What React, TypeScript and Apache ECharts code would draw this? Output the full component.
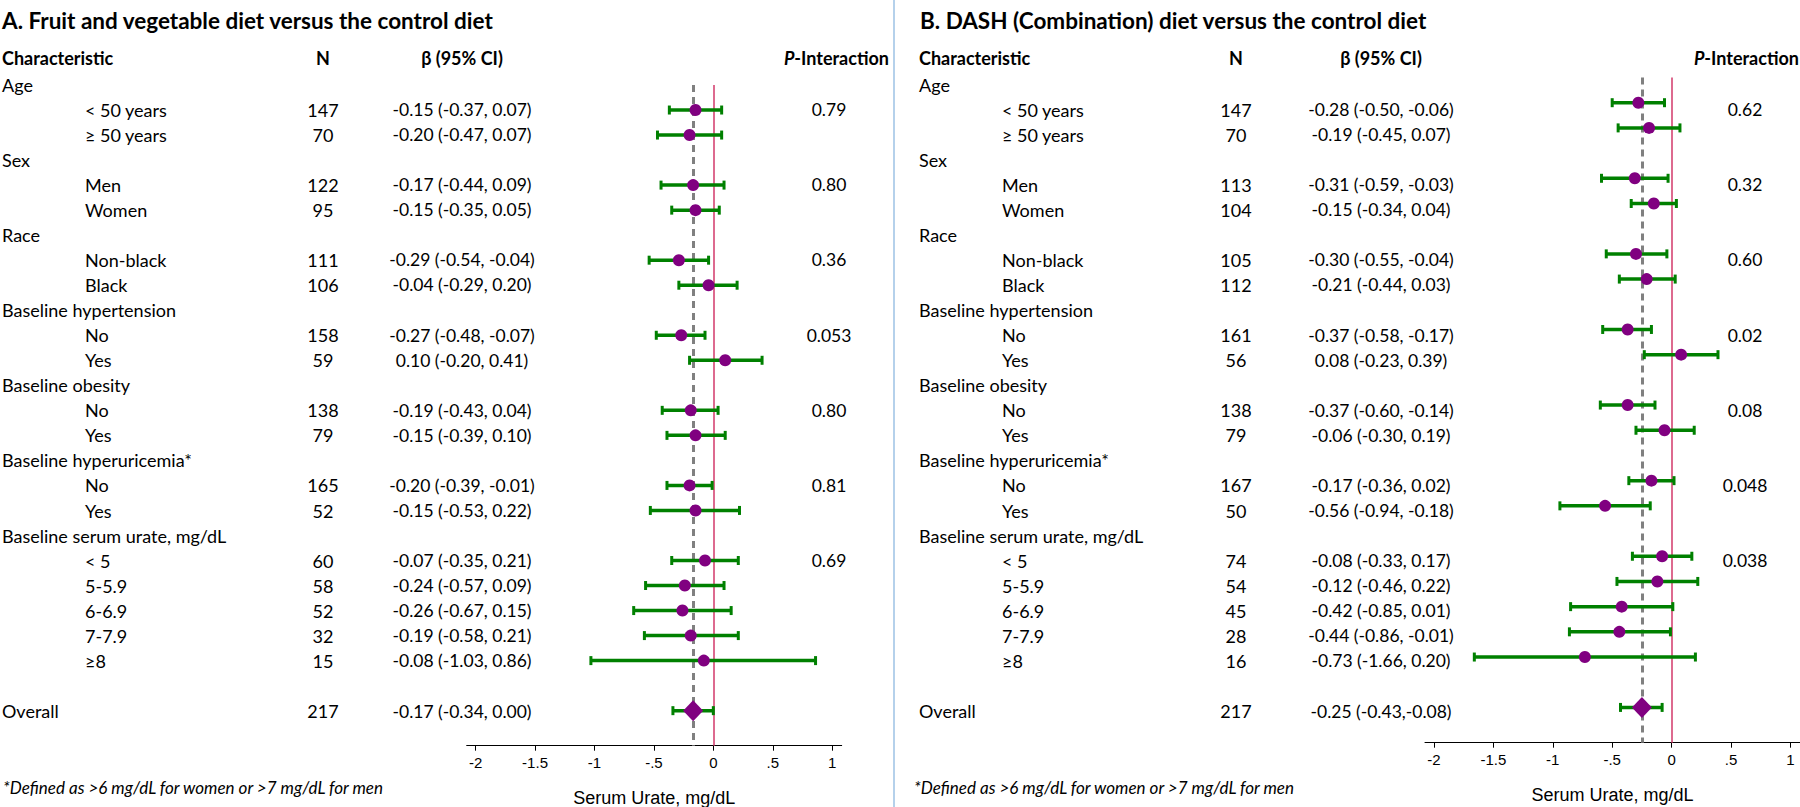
import React, { useEffect, useRef } from "react";
import * as echarts from "echarts";

// ---------------- data ----------------
const characteristics = [
  "Age", "< 50 years", "≥ 50 years",
  "Sex", "Men", "Women",
  "Race", "Non-black", "Black",
  "Baseline hypertension", "No", "Yes",
  "Baseline obesity", "No", "Yes",
  "Baseline hyperuricemia*", "No", "Yes",
  "Baseline serum urate, mg/dL", "< 5", "5-5.9", "6-6.9", "7-7.9", "≥8",
  "", "Overall",
];
const indentLevel = [0, 1, 1, 0, 1, 1, 0, 1, 1, 0, 1, 1, 0, 1, 1, 0, 1, 1, 0, 1, 1, 1, 1, 1, 0, 0];
const OVERALL_ROW = 25;

// Panel A: Fruit and vegetable diet vs control
const nA = [null, 147, 70, null, 122, 95, null, 111, 106, null, 158, 59, null, 138, 79, null, 165, 52, null, 60, 58, 52, 32, 15, null, 217];
const estA = [null, -0.15, -0.20, null, -0.17, -0.15, null, -0.29, -0.04, null, -0.27, 0.10, null, -0.19, -0.15, null, -0.20, -0.15, null, -0.07, -0.24, -0.26, -0.19, -0.08, null, -0.17];
const loA = [null, -0.37, -0.47, null, -0.44, -0.35, null, -0.54, -0.29, null, -0.48, -0.20, null, -0.43, -0.39, null, -0.39, -0.53, null, -0.35, -0.57, -0.67, -0.58, -1.03, null, -0.34];
const hiA = [null, 0.07, 0.07, null, 0.09, 0.05, null, -0.04, 0.20, null, -0.07, 0.41, null, 0.04, 0.10, null, -0.01, 0.22, null, 0.21, 0.09, 0.15, 0.21, 0.86, null, 0.00];
const ciTextA = [null, "-0.15 (-0.37, 0.07)", "-0.20 (-0.47, 0.07)", null, "-0.17 (-0.44, 0.09)", "-0.15 (-0.35, 0.05)", null, "-0.29 (-0.54, -0.04)", "-0.04 (-0.29, 0.20)", null, "-0.27 (-0.48, -0.07)", "0.10 (-0.20, 0.41)", null, "-0.19 (-0.43, 0.04)", "-0.15 (-0.39, 0.10)", null, "-0.20 (-0.39, -0.01)", "-0.15 (-0.53, 0.22)", null, "-0.07 (-0.35, 0.21)", "-0.24 (-0.57, 0.09)", "-0.26 (-0.67, 0.15)", "-0.19 (-0.58, 0.21)", "-0.08 (-1.03, 0.86)", null, "-0.17 (-0.34, 0.00)"];
const pA = [null, "0.79", null, null, "0.80", null, null, "0.36", null, null, "0.053", null, null, "0.80", null, null, "0.81", null, null, "0.69", null, null, null, null, null, null];

// Panel B: DASH (Combination) diet vs control
const nB = [null, 147, 70, null, 113, 104, null, 105, 112, null, 161, 56, null, 138, 79, null, 167, 50, null, 74, 54, 45, 28, 16, null, 217];
const estB = [null, -0.28, -0.19, null, -0.31, -0.15, null, -0.30, -0.21, null, -0.37, 0.08, null, -0.37, -0.06, null, -0.17, -0.56, null, -0.08, -0.12, -0.42, -0.44, -0.73, null, -0.25];
const loB = [null, -0.50, -0.45, null, -0.59, -0.34, null, -0.55, -0.44, null, -0.58, -0.23, null, -0.60, -0.30, null, -0.36, -0.94, null, -0.33, -0.46, -0.85, -0.86, -1.66, null, -0.43];
const hiB = [null, -0.06, 0.07, null, -0.03, 0.04, null, -0.04, 0.03, null, -0.17, 0.39, null, -0.14, 0.19, null, 0.02, -0.18, null, 0.17, 0.22, 0.01, -0.01, 0.20, null, -0.08];
const ciTextB = [null, "-0.28 (-0.50, -0.06)", "-0.19 (-0.45, 0.07)", null, "-0.31 (-0.59, -0.03)", "-0.15 (-0.34, 0.04)", null, "-0.30 (-0.55, -0.04)", "-0.21 (-0.44, 0.03)", null, "-0.37 (-0.58, -0.17)", "0.08 (-0.23, 0.39)", null, "-0.37 (-0.60, -0.14)", "-0.06 (-0.30, 0.19)", null, "-0.17 (-0.36, 0.02)", "-0.56 (-0.94, -0.18)", null, "-0.08 (-0.33, 0.17)", "-0.12 (-0.46, 0.22)", "-0.42 (-0.85, 0.01)", "-0.44 (-0.86, -0.01)", "-0.73 (-1.66, 0.20)", null, "-0.25 (-0.43,-0.08)"];
const pB = [null, "0.62", null, null, "0.32", null, null, "0.60", null, null, "0.02", null, null, "0.08", null, null, "0.048", null, null, "0.038", null, null, null, null, null, null];

const xTickValues = [-2, -1.5, -1, -0.5, 0, 0.5, 1];
const xTickLabels = ["-2", "-1.5", "-1", "-.5", "0", ".5", "1"];

const titleA = "A. Fruit and vegetable diet versus the control diet";
const titleB = "B. DASH (Combination) diet versus the control diet";
const footnote = "*Defined as >6 mg/dL for women or >7 mg/dL for men";
const axisTitle = "Serum Urate, mg/dL";
const headers = ["Characteristic", "N", "β (95% CI)", "{i|P}-Interaction"];

// ---------------- layout / style ----------------
const W = 1800;
const H = 807;
const FONT = "Lato, 'Noto Sans', sans-serif";
const AXIS_FONT = "'Liberation Sans', Arial, sans-serif";
const ROW0_Y = 84.5;
const ROW_STEP = 25.06;
const HEADER_ROW = -1.06;
const TABLE_YMIN = -1.5;
const TABLE_YMAX = 26.4;
const FOREST_YMAX = 26.4;
const X_MIN = -2.075;
const X_MAX = 1.08;
const GREEN = "#008000";
const PURPLE = "#800080";
const RED = "#D2386A";
const GREY = "#808080";

const panels = [
  {
    n: nA, est: estA, lo: loA, hi: hiA, ci: ciTextA, p: pA, title: titleA,
    col: { label0: 2, label1: 85, n: 323, ci: 462, p: 829, pHead: 889 },
    forest: { left: 466.7, width: 375, top: 85, height: 660.7 },
    titleLeft: 2, footLeft: 3,
  },
  {
    n: nB, est: estB, lo: loB, hi: hiB, ci: ciTextB, p: pB, title: titleB,
    col: { label0: 919, label1: 1002, n: 1236, ci: 1381, p: 1745, pHead: 1799 },
    forest: { left: 1425, width: 375, top: 77.5, height: 665.2 },
    titleLeft: 920, footLeft: 914,
  },
];

type TextItem = { x: number; row: number; text: string; align: string; kind: "head" | "label" | "num"; rich?: boolean };

function buildTextItems(): TextItem[] {
  const items: TextItem[] = [];
  panels.forEach((pn) => {
    const c = pn.col;
    items.push({ x: c.label0, row: HEADER_ROW, text: headers[0], align: "left", kind: "head" });
    items.push({ x: c.n, row: HEADER_ROW, text: headers[1], align: "center", kind: "head" });
    items.push({ x: c.ci, row: HEADER_ROW, text: headers[2], align: "center", kind: "head" });
    items.push({ x: c.pHead, row: HEADER_ROW, text: headers[3], align: "right", kind: "head", rich: true });
    characteristics.forEach((lab, i) => {
      if (lab) items.push({ x: indentLevel[i] ? c.label1 : c.label0, row: i, text: lab, align: "left", kind: "label" });
      if (pn.n[i] != null) items.push({ x: c.n, row: i, text: String(pn.n[i]), align: "center", kind: "label" });
      if (pn.ci[i]) items.push({ x: c.ci, row: i, text: pn.ci[i] as string, align: "center", kind: "num" });
      if (pn.p[i]) items.push({ x: c.p, row: i, text: pn.p[i] as string, align: "center", kind: "num" });
    });
  });
  return items;
}

export default function App() {
  const ref = useRef<HTMLDivElement>(null);

  useEffect(() => {
    document.body.style.margin = "0";
    if (!ref.current) return;
    const chart = echarts.init(ref.current, null, { renderer: "svg", width: W, height: H });
    const textItems = buildTextItems();

    const grids: any[] = [
      {
        left: 0, width: W,
        top: ROW0_Y + TABLE_YMIN * ROW_STEP,
        height: (TABLE_YMAX - TABLE_YMIN) * ROW_STEP,
        outerBoundsMode: "none",
      },
    ];
    const xAxes: any[] = [{ gridIndex: 0, type: "value", min: 0, max: W, show: false }];
    const yAxes: any[] = [{ gridIndex: 0, type: "value", inverse: true, min: TABLE_YMIN, max: TABLE_YMAX, show: false }];
    const series: any[] = [
      {
        type: "custom",
        xAxisIndex: 0,
        yAxisIndex: 0,
        clip: false,
        silent: true,
        data: textItems.map((t) => [t.x, t.row]),
        renderItem: (params: any, api: any) => {
          const it = textItems[params.dataIndex];
          const pt = api.coord([it.x, it.row]);
          const isNum = it.kind === "num";
          const isHead = it.kind === "head";
          return {
            type: "text",
            x: pt[0],
            y: pt[1],
            style: {
              text: it.text,
              fill: "#000",
              fontFamily: FONT,
              fontSize: isNum ? 17.5 : 18,
              fontWeight: isHead ? "bold" : "normal",
              align: it.align,
              verticalAlign: "middle",
              rich: it.rich
                ? { i: { fontStyle: "italic", fontWeight: "bold", fontFamily: FONT, fontSize: 18, fill: "#000" } }
                : undefined,
            },
          };
        },
      },
    ];

    panels.forEach((pn, k) => {
      const gi = k + 1;
      grids.push({ ...pn.forest, outerBoundsMode: "none" });
      xAxes.push({
        gridIndex: gi,
        type: "value",
        min: X_MIN,
        max: X_MAX,
        name: axisTitle,
        nameLocation: "middle",
        nameGap: 43,
        nameTextStyle: { fontFamily: AXIS_FONT, fontSize: 18, color: "#000" },
        axisLine: { show: true, onZero: false, lineStyle: { color: "#000", width: 1 } },
        axisTick: { show: true, length: 5, customValues: xTickValues, lineStyle: { color: "#000" } },
        axisLabel: {
          show: true,
          margin: 9,
          customValues: xTickValues,
          fontFamily: AXIS_FONT,
          fontSize: 15,
          color: "#000",
          formatter: (v: number) => {
            const idx = xTickValues.findIndex((t) => Math.abs(t - v) < 1e-9);
            return idx >= 0 ? xTickLabels[idx] : "";
          },
        },
        splitLine: { show: false },
      });
      yAxes.push({ gridIndex: gi, type: "value", inverse: true, min: 0, max: FOREST_YMAX, show: false });

      const ciData: number[][] = [];
      const ptData: number[][] = [];
      pn.est.forEach((e, i) => {
        if (e == null) return;
        ciData.push([pn.lo[i] as number, pn.hi[i] as number, i]);
        if (i !== OVERALL_ROW) ptData.push([e, i]);
      });
      const overallEst = pn.est[OVERALL_ROW] as number;

      // reference lines
      series.push({
        type: "scatter",
        xAxisIndex: gi,
        yAxisIndex: gi,
        z: 1,
        silent: true,
        symbolSize: 0,
        data: [[0, 1]],
        markLine: {
          z: 1,
          silent: true,
          symbol: ["none", "none"],
          label: { show: false },
          data: [
            { xAxis: 0, lineStyle: { color: RED, width: 1.5, type: "solid" } },
            { xAxis: overallEst, lineStyle: { color: GREY, width: 3, type: [7, 5] } },
          ],
        },
      });
      // confidence intervals
      series.push({
        type: "custom",
        xAxisIndex: gi,
        yAxisIndex: gi,
        z: 6,
        silent: true,
        encode: { x: [0, 1], y: 2 },
        data: ciData,
        renderItem: (params: any, api: any) => {
          const y = api.value(2);
          const a = api.coord([api.value(0), y]);
          const b = api.coord([api.value(1), y]);
          const cap = 4.5;
          return {
            type: "group",
            children: [
              { type: "line", shape: { x1: a[0], y1: a[1], x2: b[0], y2: b[1] }, style: { stroke: GREEN, lineWidth: 3.5 } },
              { type: "line", shape: { x1: a[0], y1: a[1] - cap, x2: a[0], y2: a[1] + cap }, style: { stroke: GREEN, lineWidth: 3 } },
              { type: "line", shape: { x1: b[0], y1: b[1] - cap, x2: b[0], y2: b[1] + cap }, style: { stroke: GREEN, lineWidth: 3 } },
            ],
          };
        },
      });
      // point estimates
      series.push({
        type: "scatter",
        xAxisIndex: gi,
        yAxisIndex: gi,
        z: 10,
        silent: true,
        symbol: "circle",
        symbolSize: 12,
        itemStyle: { color: PURPLE, opacity: 1 },
        data: ptData,
      });
      // overall diamond
      series.push({
        type: "scatter",
        xAxisIndex: gi,
        yAxisIndex: gi,
        z: 10,
        silent: true,
        symbol: "diamond",
        symbolSize: [20, 21],
        itemStyle: { color: PURPLE, opacity: 1 },
        data: [[overallEst, OVERALL_ROW]],
      });
    });

    const option: any = {
      animation: false,
      backgroundColor: "#fff",
      title: panels.map((pn) => ({
        text: pn.title,
        left: pn.titleLeft,
        top: 9,
        padding: 0,
        textStyle: { fontFamily: FONT, fontWeight: "bold", fontSize: 22.5, color: "#000" },
      })),
      grid: grids,
      xAxis: xAxes,
      yAxis: yAxes,
      series,
      graphic: [
        {
          type: "line",
          shape: { x1: 894, y1: 0, x2: 894, y2: H },
          style: { stroke: "#9CC2E5", lineWidth: 1.5 },
          silent: true,
        },
        ...panels.map((pn) => ({
          type: "text",
          left: pn.footLeft,
          top: 779,
          silent: true,
          style: { text: footnote, fontFamily: FONT, fontStyle: "italic", fontSize: 17, fill: "#000" },
        })),
      ],
    };
    chart.setOption(option);
    return () => chart.dispose();
  }, []);

  return <div ref={ref} style={{ width: W, height: H }} />;
}
